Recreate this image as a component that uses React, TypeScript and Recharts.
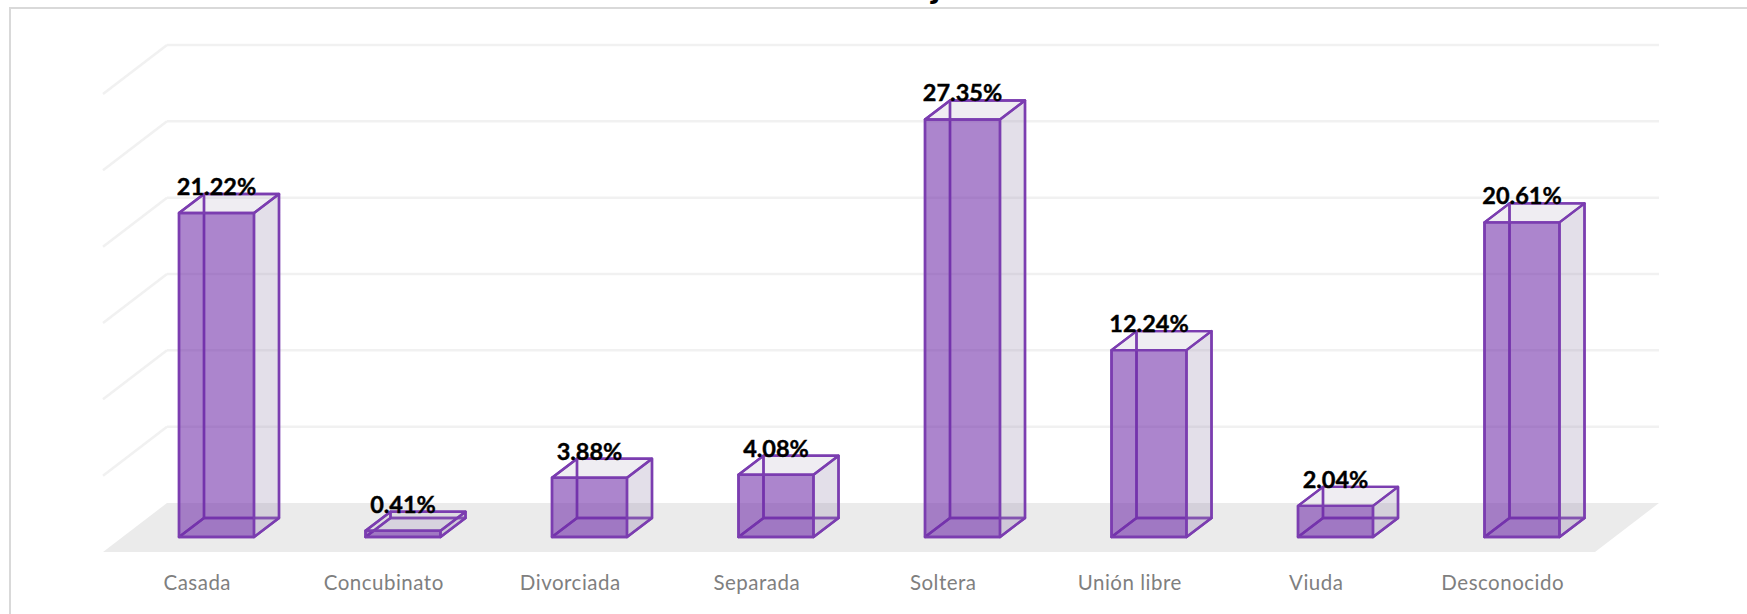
import React from 'react';
import { BarChart, Bar, XAxis, YAxis, CartesianGrid, LabelList } from 'recharts';

const categories = ['Casada', 'Concubinato', 'Divorciada', 'Separada', 'Soltera', 'Unión libre', 'Viuda', 'Desconocido'];
const values = [21.22, 0.41, 3.88, 4.08, 27.35, 12.24, 2.04, 20.61];
const yTicks = [0, 5, 10, 15, 20, 25, 30];
const data = categories.map((name, i) => ({ name, value: values[i] }));

const DX = 25;
const DY = -19;
const FLOOR_FRONT = { dx: -20, dy: 15 };
const FLOOR_BACK = { dx: 44, dy: -34 };
const STROKE = '#7B3DB0';

function Cuboid(props: any) {
  const { x, y, width, height } = props;
  const l = x;
  const r = x + width;
  const t = y;
  const b = y + height;
  const poly = (pts: number[][]) => pts.map((p) => p.join(',')).join(' ');
  const common = { stroke: STROKE, strokeWidth: 2.4, strokeLinejoin: 'round' as const };
  return (
    <g>
      <polygon points={poly([[l, b], [r, b], [r + DX, b + DY], [l + DX, b + DY]])} fill="#E3E0E8" {...common} />
      <polygon points={poly([[l + DX, t + DY], [r + DX, t + DY], [r + DX, b + DY], [l + DX, b + DY]])} fill="none" {...common} />
      <polygon points={poly([[r, t], [r + DX, t + DY], [r + DX, b + DY], [r, b]])} fill="#9A8DB0" fillOpacity={0.28} {...common} />
      <polygon points={poly([[l, t], [r, t], [r + DX, t + DY], [l + DX, t + DY]])} fill="#9A8DB0" fillOpacity={0.16} {...common} />
      <polygon points={poly([[l, t], [l + DX, t + DY], [l + DX, b + DY], [l, b]])} fill="none" {...common} />
      <rect x={l} y={t} width={width} height={height} fill="#702DA9" fillOpacity={0.58} {...common} />
    </g>
  );
}

function GridLine(props: any) {
  const { x1, x2, y1 } = props;
  const y = y1;
  if (Math.abs(y - 537) < 1) {
    return (
      <polygon
        points={`${x1 + FLOOR_FRONT.dx},${y + FLOOR_FRONT.dy} ${x2 + FLOOR_FRONT.dx},${y + FLOOR_FRONT.dy} ${x2 + FLOOR_BACK.dx},${y + FLOOR_BACK.dy} ${x1 + FLOOR_BACK.dx},${y + FLOOR_BACK.dy}`}
        fill="#EBEBEB"
      />
    );
  }
  return (
    <g>
      <line x1={x1 + FLOOR_FRONT.dx} y1={y + FLOOR_FRONT.dy} x2={x1 + FLOOR_BACK.dx} y2={y + FLOOR_BACK.dy} stroke="#F1F1F1" strokeWidth={2.5} />
      <line x1={x1 + FLOOR_BACK.dx} y1={y + FLOOR_BACK.dy} x2={x2 + FLOOR_BACK.dx} y2={y + FLOOR_BACK.dy} stroke="#F1F1F1" strokeWidth={2.5} />
    </g>
  );
}

function CategoryTick(props: any) {
  const { x, payload } = props;
  return (
    <text x={x - 19} y={590} textAnchor="middle" fontFamily="Lato" fontSize={20.5} letterSpacing={0.5} fill="#7F7F7F">
      {payload.value}
    </text>
  );
}

function ValueLabel(props: any) {
  const { x, y, width, value } = props;
  return (
    <text x={x + width / 2} y={y - 18} textAnchor="middle" fontFamily="Lato" fontWeight={700} fontSize={23.5} stroke="#000" strokeWidth={0.4} fill="#000">
      {`${Number(value).toFixed(2)}%`}
    </text>
  );
}

export default function App() {
  return (
    <div style={{ position: 'absolute', left: 0, top: 0, width: 1747, height: 614, overflow: 'hidden', background: '#fff' }}>
      <div style={{ position: 'absolute', left: 9, top: 7, width: 1900, height: 800, border: '2px solid #D9D9D9', boxSizing: 'border-box' }} />
      <BarChart
        width={1747}
        height={614}
        data={data}
        margin={{ left: 123, right: 132, top: 79, bottom: 0 }}
        barSize={75}
        style={{ position: 'absolute', left: 0, top: 0 }}
      >
        <CartesianGrid vertical={false} horizontal={GridLine as any} />
        <XAxis dataKey="name" axisLine={false} tickLine={false} height={77} interval={0} tick={CategoryTick as any} />
        <YAxis hide domain={[0, 30]} ticks={yTicks} />
        <Bar dataKey="value" isAnimationActive={false} shape={Cuboid as any}>
          <LabelList dataKey="value" content={ValueLabel as any} />
        </Bar>
        <text x={936} y={-2} textAnchor="middle" fontFamily="Lato" fontWeight={700} fontSize={36} fill="#000">j</text>
      </BarChart>
    </div>
  );
}
